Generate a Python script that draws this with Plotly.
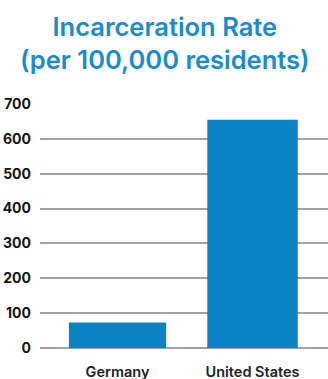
import plotly.graph_objects as go

categories = ["Germany", "United States"]
values = [73, 655]
bar_widths = [0.72, 0.67]
y_ticks = [0, 100, 200, 300, 400, 500, 600, 700]

BLUE = "#0a82c4"
TITLE_BLUE = "#1a8bcd"
FONT = "Inter"

fig = go.Figure(go.Bar(
    x=[0, 1], y=values, width=bar_widths,
    marker=dict(color=BLUE, line=dict(width=0)),
))

fig.add_annotation(
    text="Incarceration Rate<br>(per 100,000 residents)",
    xref="paper", yref="paper", x=0.434, y=1.0, xanchor="center", yanchor="bottom",
    yshift=27, showarrow=False, align="center",
    font=dict(family=FONT, size=25.5, color=TITLE_BLUE, weight=600),
)

fig.update_layout(
    width=328, height=379,
    margin=dict(l=40, r=0, t=104, b=31),
    paper_bgcolor="white", plot_bgcolor="white",
    showlegend=False,
    xaxis=dict(
        range=[-0.574, 1.559], tickvals=[0, 1], ticktext=categories,
        showgrid=False, zeroline=False, showline=False,
        tickfont=dict(family=FONT, size=14.5, color="#222222", weight=600),
        ticks="", ticklabelstandoff=13,
    ),
    yaxis=dict(
        range=[0, 700], tickvals=y_ticks,
        showgrid=True, gridcolor="#a3a3a3", gridwidth=1.5,
        zeroline=True, zerolinecolor="#a3a3a3", zerolinewidth=1.5,
        showline=False, ticks="",
        tickfont=dict(family=FONT, size=14, color="#111111", weight="bold"),
        ticklabelstandoff=8,
    ),
    bargap=0.3,
)

fig.write_html("out.html")
